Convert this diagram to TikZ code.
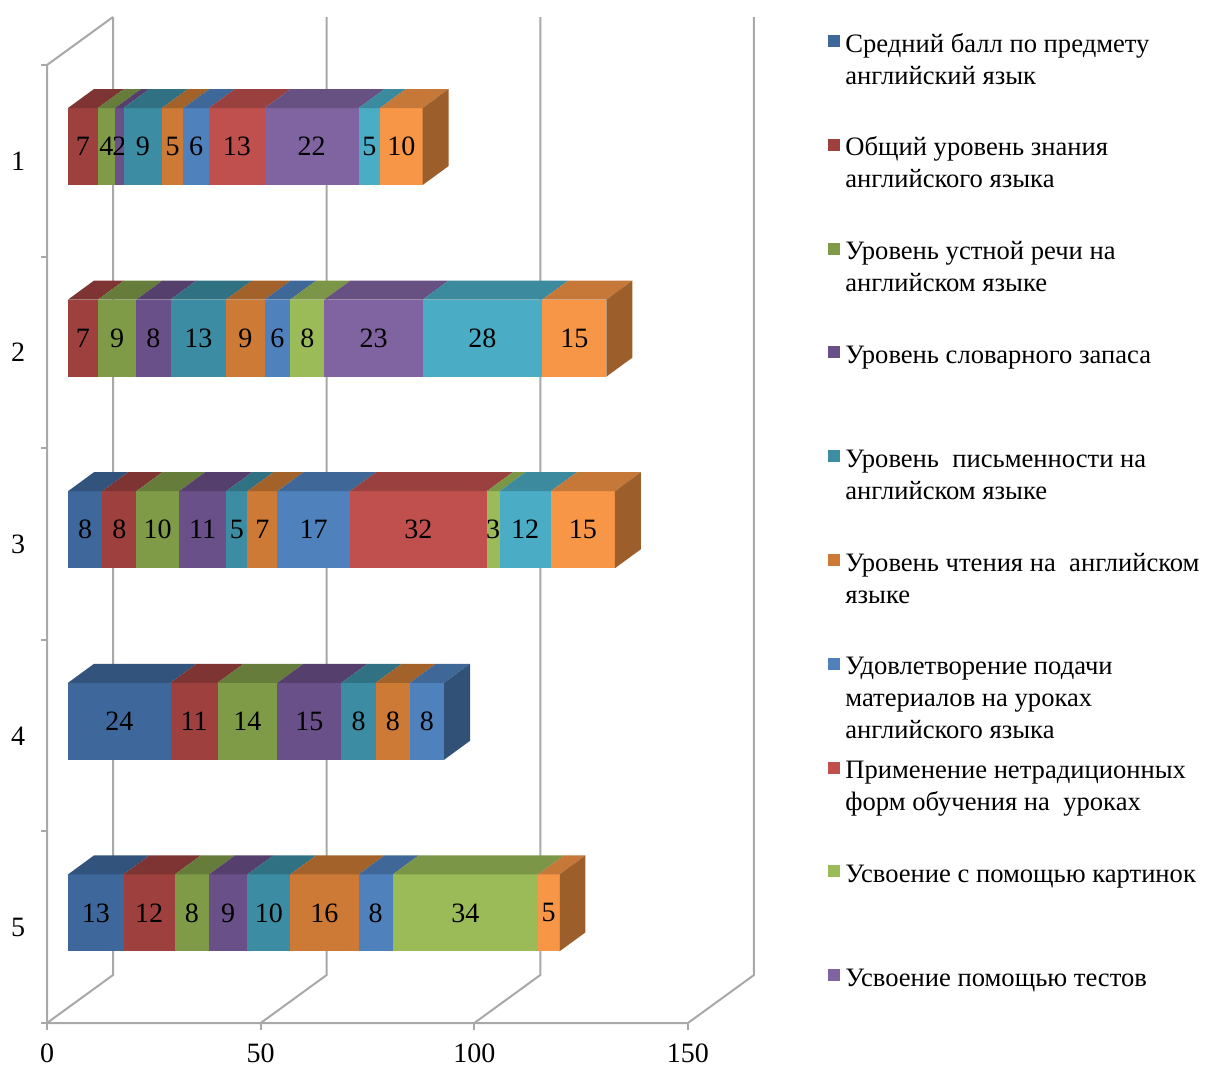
\documentclass[tikz,border=0pt]{standalone}
\usepackage{fontspec}
\setmainfont{Liberation Serif}
\usepackage{tikz}

\definecolor{s1}{HTML}{3E689B}
\definecolor{s2}{HTML}{9E413E}
\definecolor{s3}{HTML}{7F9B48}
\definecolor{s4}{HTML}{6A5088}
\definecolor{s5}{HTML}{3C8DA4}
\definecolor{s6}{HTML}{CC7A35}
\definecolor{s7}{HTML}{4F81BD}
\definecolor{s8}{HTML}{C0504D}
\definecolor{s9}{HTML}{9BBB59}
\definecolor{s10}{HTML}{8064A2}
\definecolor{s11}{HTML}{4BACC6}
\definecolor{s12}{HTML}{F79646}
\definecolor{wallgray}{HTML}{A8A8A8}

\begin{document}
\begin{tikzpicture}[x=0.5pt, y=-0.5pt, font=\fontsize{14}{16}\selectfont,
  wall/.style={draw=wallgray, line width=1pt},
  legtext/.style={anchor=base west, align=left, inner sep=0pt, font=\fontsize{13.3}{16}\selectfont}]
\def \unit {4.273}
\useasboundingbox (0,0) rectangle (1205,1066);

\foreach \v in {0,50,100,150}
  \draw[wall] (113+\v*\unit,17) -- (113+\v*\unit,975) -- (47+\v*\unit,1023);
\draw[wall] (113,17) -- (47,65) -- (47,1023) -- (688,1023);
\foreach \k in {0,...,5}
  \draw[wall] (41,65+\k*191.6) -- (47,65+\k*191.6);
\foreach \v/\n in {0/0,50/1,100/2,150/3} {
  \draw[wall] (47+\v*\unit,1023) -- (47+\v*\unit,1030);
  \node[inner sep=0pt] (t\n) at (47+\v*\unit,1053) {\v};
}
\foreach \i in {1,...,5}
  \node (c\i) at (18,161+\i*191.6-191.6) {\i};

\foreach \i/\data in {
  1/{2/7,3/4,4/2,5/9,6/5,7/6,8/13,10/22,11/5,12/10},
  2/{2/7,3/9,4/8,5/13,6/9,7/6,9/8,10/23,11/28,12/15},
  3/{1/8,2/8,3/10,4/11,5/5,6/7,7/17,8/32,9/3,11/12,12/15},
  4/{1/24,2/11,3/14,4/15,5/8,6/8,7/8},
  5/{1/13,2/12,3/8,4/9,5/10,6/16,7/8,9/34,12/5}} {
  \pgfmathsetmacro\yt{108+(\i-1)*191.6}
  \xdef\acc{0}
  \foreach \s/\v in \data {
    \pgfmathsetmacro\xa{68+\acc*\unit}
    \pgfmathsetmacro\xb{68+(\acc+\v)*\unit}
    \fill[s\s] (\xa,\yt) rectangle (\xb,\yt+77);
    \fill[s\s!80!black] (\xa,\yt) -- (\xb,\yt) -- (\xb+26,\yt-19) -- (\xa+26,\yt-19) -- cycle;
    \node (b\i-\s) at ({(\xa+\xb)/2},\yt+38.5) {\v};
    \pgfmathsetmacro\newacc{\acc+\v}
    \xdef\acc{\newacc}
    \xdef\last{\s}
  }
  \pgfmathsetmacro\xe{68+\acc*\unit}
  \fill[s\last!63!black] (\xe,\yt) -- (\xe+26,\yt-19) -- (\xe+26,\yt+58) -- (\xe,\yt+77) -- cycle;
}

\foreach \k/\n/\txt in {
  1/2/{Средний балл по предмету\\английский язык},
  2/2/{Общий уровень знания\\английского языка},
  3/2/{Уровень устной речи на\\английском языке},
  4/1/{Уровень словарного запаса},
  5/2/{Уровень\ \ письменности на\\английском языке},
  6/2/{Уровень чтения на\ \ английском\\языке},
  7/3/{Удовлетворение подачи\\материалов на уроках\\английского языка},
  8/2/{Применение нетрадиционных\\форм обучения на\ \ уроках},
  9/1/{Усвоение с помощью картинок},
  10/1/{Усвоение помощью тестов}} {
  \fill[s\k] (828,35+\k*103.8-103.8) rectangle ++(12,12);
  \node[legtext] (l\k) at (845,52+\k*103.8-103.8+\n*32-32) {\txt};
}
\end{tikzpicture}
\end{document}
